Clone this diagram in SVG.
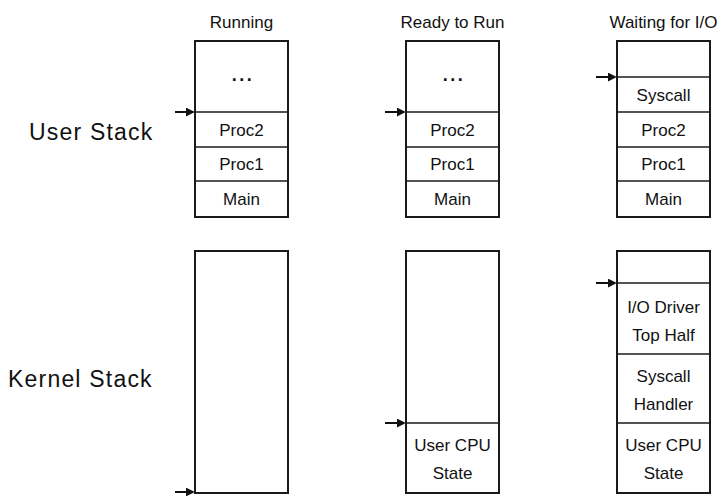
<svg xmlns="http://www.w3.org/2000/svg" width="722" height="496" viewBox="0 0 722 496">
<style>
.box{fill:#fff;stroke:#1a1a1a;stroke-width:2}
.div{stroke:#1a1a1a;stroke-width:1.6}
.t{font-family:"Liberation Sans",Arial,sans-serif;font-size:17px;fill:#111;text-anchor:middle}
.dots{font-family:"Liberation Sans",Arial,sans-serif;font-size:18px;font-weight:bold;fill:#111;text-anchor:middle;letter-spacing:2.5px}
.lbl{font-family:"Liberation Sans",Arial,sans-serif;font-size:23px;fill:#111;letter-spacing:1.2px}
.arr{stroke:#111;stroke-width:2;fill:none;marker-end:url(#ah)}
</style>
<defs>
<marker id="ah" viewBox="0 0 10 10" refX="8" refY="5" markerWidth="4.5" markerHeight="4.5" orient="auto" markerUnits="strokeWidth">
<path d="M0,0 L10,5 L0,10 z" fill="#111"/>
</marker>
</defs>
<rect width="722" height="496" fill="#fff"/>

<g id="headers">
<text class="t" x="241.5" y="28">Running</text>
<text class="t" x="452.5" y="28">Ready to Run</text>
<text class="t" x="663.5" y="28">Waiting for I/O</text>
</g>

<g id="row-labels">
<text class="lbl" x="29" y="140">User Stack</text>
<text class="lbl" x="8" y="387">Kernel Stack</text>
</g>

<g id="running-user">
<rect class="box" x="195" y="41" width="93" height="176"/>
<line class="div" x1="195" y1="112" x2="288" y2="112"/>
<line class="div" x1="195" y1="147" x2="288" y2="147"/>
<line class="div" x1="195" y1="181" x2="288" y2="181"/>
<text class="dots" x="243" y="81">...</text>
<text class="t" x="241.5" y="136">Proc2</text>
<text class="t" x="241.5" y="170">Proc1</text>
<text class="t" x="241.5" y="205">Main</text>
</g>

<g id="ready-user">
<rect class="box" x="406" y="41" width="93" height="176"/>
<line class="div" x1="406" y1="112" x2="499" y2="112"/>
<line class="div" x1="406" y1="147" x2="499" y2="147"/>
<line class="div" x1="406" y1="181" x2="499" y2="181"/>
<text class="dots" x="454" y="81">...</text>
<text class="t" x="452.5" y="136">Proc2</text>
<text class="t" x="452.5" y="170">Proc1</text>
<text class="t" x="452.5" y="205">Main</text>
</g>

<g id="waiting-user">
<rect class="box" x="617" y="41" width="93" height="176"/>
<line class="div" x1="617" y1="77" x2="710" y2="77"/>
<line class="div" x1="617" y1="112" x2="710" y2="112"/>
<line class="div" x1="617" y1="147" x2="710" y2="147"/>
<line class="div" x1="617" y1="181" x2="710" y2="181"/>
<text class="t" x="663.5" y="101">Syscall</text>
<text class="t" x="663.5" y="136">Proc2</text>
<text class="t" x="663.5" y="170">Proc1</text>
<text class="t" x="663.5" y="205">Main</text>
</g>

<g id="running-kernel">
<rect class="box" x="195" y="251" width="93" height="242"/>
</g>

<g id="ready-kernel">
<rect class="box" x="406" y="251" width="93" height="242"/>
<line class="div" x1="406" y1="423" x2="499" y2="423"/>
<text class="t" x="452.5" y="451">User CPU</text>
<text class="t" x="452.5" y="479">State</text>
</g>

<g id="waiting-kernel">
<rect class="box" x="617" y="251" width="93" height="242"/>
<line class="div" x1="617" y1="283" x2="710" y2="283"/>
<line class="div" x1="617" y1="354" x2="710" y2="354"/>
<line class="div" x1="617" y1="423" x2="710" y2="423"/>
<text class="t" x="663.5" y="313">I/O Driver</text>
<text class="t" x="663.5" y="341">Top Half</text>
<text class="t" x="663.5" y="382">Syscall</text>
<text class="t" x="663.5" y="410">Handler</text>
<text class="t" x="663.5" y="451">User CPU</text>
<text class="t" x="663.5" y="479">State</text>
</g>

<g id="connectors">
<line class="arr" x1="175" y1="112" x2="193" y2="112"/>
<line class="arr" x1="175" y1="492" x2="193" y2="492"/>
<line class="arr" x1="385" y1="112" x2="404" y2="112"/>
<line class="arr" x1="385" y1="423" x2="404" y2="423"/>
<line class="arr" x1="596" y1="77" x2="615" y2="77"/>
<line class="arr" x1="596" y1="283" x2="615" y2="283"/>
</g>
</svg>
